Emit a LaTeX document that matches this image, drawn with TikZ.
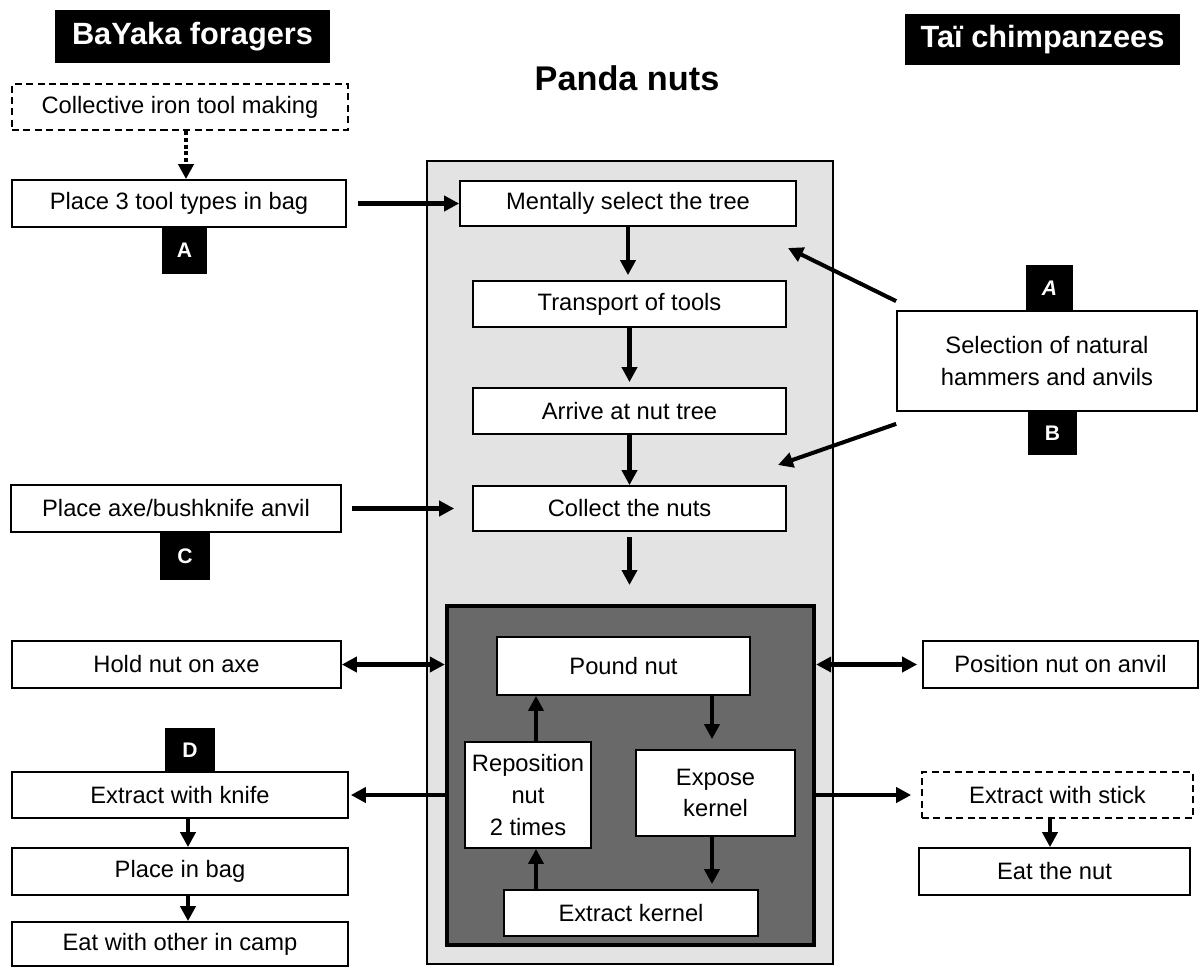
\documentclass[tikz,border=0pt]{standalone}
\usepackage{fontspec}
\setmainfont{Liberation Sans}
\usetikzlibrary{arrows.meta}
\begin{document}
\begin{tikzpicture}[x=0.02cm,y=-0.02cm,
  box/.style={draw=black, fill=white, line width=1pt, inner sep=0pt, align=center, font=\fontsize{13.5}{18}\selectfont},
  dbox/.style={box, dash pattern=on 4pt off 2.5pt},
  hdr/.style={fill=black, text=white, inner sep=0pt, font=\fontsize{17.5}{20}\selectfont\bfseries},
  lab/.style={fill=black, text=white, inner sep=0pt, font=\fontsize{12}{14}\selectfont\bfseries},
  arr/.style={line width=2.3pt, -{Triangle[length=0.3cm,width=0.3cm]}},
  darr/.style={line width=2.3pt, {Triangle[length=0.3cm,width=0.3cm]}-{Triangle[length=0.3cm,width=0.3cm]}},
  dotarr/.style={arr, dash pattern=on 2.3pt off 1.6pt},
]
\useasboundingbox (0,0) rectangle (1200,968);

% headers and title
\node[hdr, minimum width=5.5cm, minimum height=1.06cm] (hdrL) at (192.5,36.5) {BaYaka foragers};
\node[hdr, minimum width=5.5cm, minimum height=1.02cm] (hdrR) at (1042.5,39.5) {Taï chimpanzees};
\node[font=\fontsize{19.5}{22}\selectfont\bfseries, inner sep=0pt] (title) at (627,78) {Panda nuts};

% central containers
\node[draw=black, fill=black!11, line width=1.3pt, minimum width=8.12cm, minimum height=16.06cm] (outer) at (630,562.5) {};
\node[draw=black, fill=black!59, line width=2.5pt, minimum width=7.34cm, minimum height=6.78cm] (dark) at (630.5,775.5) {};

% central flow
\node[box, minimum width=6.72cm, minimum height=0.9cm] (mental) at (628,203.5) {Mentally select the tree};
\node[box, minimum width=6.26cm, minimum height=0.92cm] (transport) at (629.5,304) {Transport of tools};
\node[box, minimum width=6.26cm, minimum height=0.92cm] (arrive) at (629.5,411) {Arrive at nut tree};
\node[box, minimum width=6.26cm, minimum height=0.9cm] (collect) at (629.5,508.5) {Collect the nuts};
\node[box, minimum width=5.06cm, minimum height=1.16cm] (pound) at (623.5,666) {Pound nut};
\node[box, minimum width=3.18cm, minimum height=1.72cm] (expose) at (715.5,793) {Expose\\kernel};
\node[box, minimum width=5.08cm, minimum height=0.92cm] (extractk) at (631,913) {Extract kernel};
\node[box, minimum width=2.52cm, minimum height=2.12cm] (repos) at (528,795) {Reposition\\nut\\2 times};

% left column
\node[dbox, minimum width=6.72cm, minimum height=0.92cm] (iron) at (180,107) {Collective iron tool making};
\node[box, minimum width=6.68cm, minimum height=0.94cm] (bag3) at (179,203.5) {Place 3 tool types in bag};
\node[lab, minimum width=0.9cm, minimum height=0.94cm] (labA) at (184.5,250.5) {A};
\node[box, minimum width=6.6cm, minimum height=0.94cm] (axe) at (176,508.5) {Place axe/bushknife anvil};
\node[lab, minimum width=1.0cm, minimum height=0.96cm] (labC) at (185,556) {C};
\node[box, minimum width=6.58cm, minimum height=0.94cm] (hold) at (176.5,664.5) {Hold nut on axe};
\node[lab, minimum width=1.0cm, minimum height=0.88cm] (labD) at (190,750) {D};
\node[box, minimum width=6.72cm, minimum height=0.92cm] (knife) at (180,795) {Extract with knife};
\node[box, minimum width=6.72cm, minimum height=0.94cm] (pbag) at (180,871.5) {Place in bag};
\node[box, minimum width=6.72cm, minimum height=0.88cm] (eatcamp) at (180,944) {Eat with other in camp};

% right column
\node[box, minimum width=6.0cm, minimum height=2.0cm] (select) at (1047,361) {Selection of natural\\hammers and anvils};
\node[lab, minimum width=0.94cm, minimum height=0.92cm, font=\fontsize{12}{14}\selectfont\bfseries\itshape] (labA2) at (1049.5,288) {A};
\node[lab, minimum width=0.98cm, minimum height=0.88cm] (labB) at (1052.5,433) {B};
\node[box, minimum width=5.5cm, minimum height=0.94cm] (position) at (1060.5,664.5) {Position nut on anvil};
\node[dbox, minimum width=5.42cm, minimum height=0.92cm] (stick) at (1057.5,795) {Extract with stick};
\node[box, minimum width=5.42cm, minimum height=0.94cm] (eatnut) at (1054.5,871.5) {Eat the nut};

% helper coordinates
\coordinate (cend) at (629.5,585);
\coordinate (selA) at (788,248);
\coordinate (selB) at (778,465);
\coordinate (kx) at (188,0);
\coordinate (sx) at (1050,0);
\coordinate (ix) at (712,0);
\coordinate (rx) at (536,0);
\coordinate (ironx) at (186,0);

% connectors
\draw[dotarr] (iron.south -| ironx) -- (bag3.north -| ironx);
\draw[arr] ([xshift=0.22cm]bag3.east) -- (bag3.east -| mental.west);
\draw[arr] (mental.south) -- ([yshift=0.1cm]mental.south |- transport.north);
\draw[arr] (transport.south) -- ([yshift=0.1cm]transport.south |- arrive.north);
\draw[arr] (arrive.south) -- (arrive.south |- collect.north);
\draw[arr] ([yshift=-0.1cm]collect.south) -- (cend);
\draw[arr] ([xshift=0.2cm]axe.east) -- ([xshift=-0.36cm]axe.east -| collect.west);
\draw[arr] ([yshift=0.18cm]select.north west) -- (selA);
\draw[arr] ([yshift=-0.24cm]select.south west) -- (selB);

\draw[darr] (hold.east) -- (hold.east -| dark.west);
\draw[darr] (dark.east |- position.west) -- ([xshift=-0.1cm]position.west);
\draw[arr] (dark.west |- knife.east) -- ([xshift=0.04cm]knife.east);
\draw[arr] (dark.east |- stick.west) -- ([xshift=-0.2cm]stick.west);
\draw[arr] (knife.south -| kx) -- (pbag.north -| kx);
\draw[arr] (pbag.south -| kx) -- (eatcamp.north -| kx);
\draw[arr] (stick.south -| sx) -- (eatnut.north -| sx);

\draw[arr] (pound.south -| ix) -- ([yshift=0.2cm]expose.north -| ix);
\draw[arr] (expose.south -| ix) -- ([yshift=0.1cm]extractk.north -| ix);
\draw[arr] (extractk.north -| rx) -- (repos.south -| rx);
\draw[arr] (repos.north -| rx) -- (pound.south -| rx);
\end{tikzpicture}
\end{document}
